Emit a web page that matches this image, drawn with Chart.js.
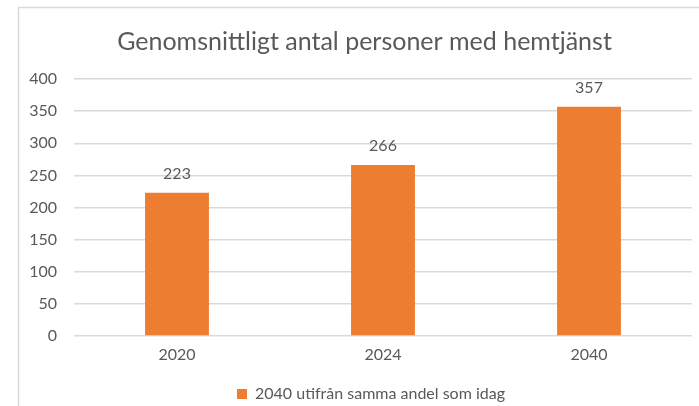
<!DOCTYPE html>
<html>
<head>
<meta charset="utf-8">
<script src="https://cdn.jsdelivr.net/npm/chart.js@4/dist/chart.umd.min.js"></script>
<style>
html,body{margin:0;padding:0;background:#fff;}
#wrap{width:699px;height:406px;position:relative;}
</style>
</head>
<body>
<div id="wrap"><canvas id="c" width="699" height="406"></canvas></div>
<script>
const categories = ['2020', '2024', '2040'];
const seriesLabel = '2040 utifrån samma andel som idag';
const seriesValues = [223, 266, 357];
const titleText = 'Genomsnittligt antal personer med hemtjänst';

const textColor = '#595959';
const fontFamily = 'Lato, "Open Sans", sans-serif';

const frame = {
  id: 'frame',
  afterLayout(chart) {
    if (chart.legend) {
      chart.legend.left += 16;
      chart.legend.right += 16;
    }
  },
  beforeDraw(chart) {
    const ctx = chart.ctx;
    ctx.save();
    ctx.strokeStyle = '#d9d9d9';
    ctx.lineWidth = 1.5;
    ctx.beginPath();
    ctx.moveTo(18.5, 406);
    ctx.lineTo(18.5, 7.5);
    ctx.lineTo(699, 7.5);
    ctx.stroke();
    ctx.restore();
  },
  afterDraw(chart) {
    const ctx = chart.ctx;
    const t = chart.titleBlock;
    ctx.save();
    ctx.fillStyle = textColor;
    ctx.font = '25px ' + fontFamily;
    ctx.textAlign = 'center';
    ctx.textBaseline = 'middle';
    ctx.fillText(titleText, 364.5, t.top + 20 + 15);
    ctx.restore();
  }
};

const valueLabels = {
  id: 'valueLabels',
  afterDatasetsDraw(chart) {
    const ctx = chart.ctx;
    ctx.save();
    ctx.fillStyle = textColor;
    ctx.font = '16px ' + fontFamily;
    ctx.textAlign = 'center';
    ctx.textBaseline = 'middle';
    chart.getDatasetMeta(0).data.forEach((bar, i) => {
      ctx.fillText(String(seriesValues[i]), bar.x, bar.y - 19);
    });
    ctx.restore();
  }
};

new Chart(document.getElementById('c'), {
  type: 'bar',
  data: {
    labels: categories,
    datasets: [{
      label: seriesLabel,
      data: seriesValues,
      backgroundColor: '#ED7D31',
      borderWidth: 0,
      categoryPercentage: 1,
      barPercentage: 0.31
    }]
  },
  options: {
    responsive: false,
    animation: false,
    devicePixelRatio: 1,
    layout: { padding: { left: 18, right: 7, top: 7, bottom: -6 } },
    plugins: {
      title: {
        display: true,
        text: titleText,
        color: 'rgba(0,0,0,0)',
        font: { family: fontFamily, size: 25, weight: 'normal' },
        padding: { top: 20, bottom: 22 }
      },
      legend: {
        position: 'bottom',
        labels: {
          color: textColor,
          font: { family: fontFamily, size: 16 },
          boxWidth: 10,
          boxHeight: 10,
          padding: 3
        }
      },
      tooltip: { enabled: false }
    },
    scales: {
      x: {
        grid: { display: false, drawTicks: false },
        border: { display: false },
        ticks: { color: textColor, font: { family: fontFamily, size: 16 }, padding: 9 },
        afterFit(scale) { scale.height = 47; }
      },
      y: {
        min: 0,
        max: 400,
        ticks: { stepSize: 50, color: textColor, font: { family: fontFamily, size: 16 }, padding: 17 },
        grid: { color: '#d9d9d9', lineWidth: 1.5, drawTicks: false },
        border: { display: false },
        afterFit(scale) { scale.width = 56; }
      }
    }
  },
  plugins: [frame, valueLabels]
});
</script>
</body>
</html>
